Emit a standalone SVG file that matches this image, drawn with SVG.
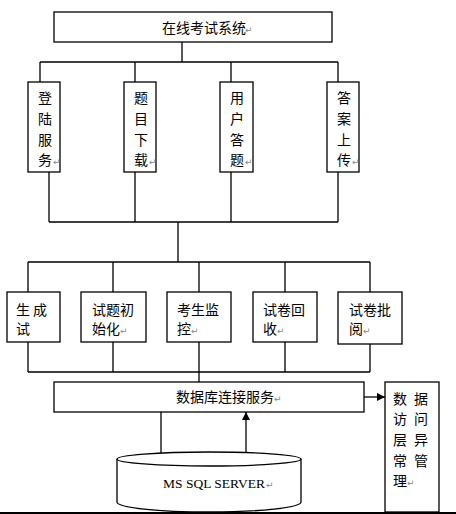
<svg xmlns="http://www.w3.org/2000/svg" width="456" height="514" viewBox="0 0 456 514">
<defs>
<style>
.box{fill:#fff;stroke:#000;stroke-width:1.3}
.ln{fill:none;stroke:#000;stroke-width:1.3}
.t{font-family:"SimSun","Noto Sans CJK SC","DejaVu Sans",sans-serif;font-size:14px;fill:#000}
.tc{text-anchor:middle}
.en{font-family:"Liberation Serif",serif;font-size:13.5px;fill:#000}
.pm{font-family:"DejaVu Sans",sans-serif;font-size:9px;fill:#888}
</style>
<marker id="ah" viewBox="0 0 10 10" refX="10" refY="5" markerWidth="8" markerHeight="8" markerUnits="userSpaceOnUse" orient="auto">
<path d="M0,0 L10,5 L0,10 z" fill="#000"/>
</marker>
</defs>
<rect width="456" height="514" fill="#fff"/>

<g id="connectors">
<path class="ln" d="M182,42 V62 M40,62 H338 M40,62 V82 M135,62 V82 M231,62 V82 M338,62 V82"/>
<path class="ln" d="M49,172 V222 M135,172 V222 M231,172 V222 M338,172 V222 M49,222 H338 M178,222 V262"/>
<path class="ln" d="M28,262 H370 M28,262 V292 M113,262 V292 M199,262 V292 M285,262 V292 M370,262 V292"/>
<path class="ln" d="M28,342 V372 M113,342 V372 M199,342 V372 M285,342 V372 M370,344 V372 M28,372 H370 M199,372 V382"/>
<line class="ln" x1="364" y1="397" x2="385" y2="397" marker-end="url(#ah)"/>
<line class="ln" x1="161" y1="412" x2="161" y2="461" marker-end="url(#ah)"/>
<line class="ln" x1="246" y1="453" x2="246" y2="412" marker-end="url(#ah)"/>
</g>

<g id="root">
<rect class="box" x="54" y="12" width="278" height="30"/>
<text class="t" x="162" y="33">在线考试系统</text><text class="pm" x="245" y="33">↵</text>
</g>

<g id="login">
<rect class="box" x="28" y="82" width="32" height="90"/>
<text class="t tc" x="45" y="103">登</text><text class="t tc" x="45" y="124">陆</text><text class="t tc" x="45" y="145">服</text><text class="t tc" x="45" y="165">务</text><text class="pm" x="53" y="165">↵</text>
</g>
<g id="download">
<rect class="box" x="124" y="82" width="32" height="90"/>
<text class="t tc" x="141" y="103">题</text><text class="t tc" x="141" y="124">目</text><text class="t tc" x="141" y="145">下</text><text class="t tc" x="141" y="165">载</text><text class="pm" x="149" y="165">↵</text>
</g>
<g id="answer">
<rect class="box" x="220" y="82" width="33" height="90"/>
<text class="t tc" x="237" y="103">用</text><text class="t tc" x="237" y="124">户</text><text class="t tc" x="237" y="145">答</text><text class="t tc" x="237" y="165">题</text><text class="pm" x="245" y="165">↵</text>
</g>
<g id="upload">
<rect class="box" x="327" y="82" width="32" height="90"/>
<text class="t tc" x="344" y="103">答</text><text class="t tc" x="344" y="124">案</text><text class="t tc" x="344" y="145">上</text><text class="t tc" x="344" y="165">传</text><text class="pm" x="352" y="165">↵</text>
</g>

<g id="gen">
<rect class="box" x="7" y="292" width="53" height="50"/>
<text class="t" x="16" y="315">生 <tspan x="33">成</tspan></text>
<text class="t" x="16" y="334">试</text>
</g>
<g id="init">
<rect class="box" x="81" y="292" width="65" height="50"/>
<text class="t" x="92" y="315">试题初</text>
<text class="t" x="92" y="334">始化</text><text class="pm" x="120" y="334">↵</text>
</g>
<g id="monitor">
<rect class="box" x="167" y="292" width="64" height="50"/>
<text class="t" x="177" y="315">考生监</text>
<text class="t" x="177" y="334">控</text><text class="pm" x="191" y="334">↵</text>
</g>
<g id="collect">
<rect class="box" x="253" y="292" width="64" height="50"/>
<text class="t" x="263" y="315">试卷回</text>
<text class="t" x="263" y="334">收</text><text class="pm" x="277" y="334">↵</text>
</g>
<g id="grade">
<rect class="box" x="338" y="292" width="64" height="52"/>
<text class="t" x="349" y="315">试卷批</text>
<text class="t" x="349" y="334">阅</text><text class="pm" x="363" y="334">↵</text>
</g>

<g id="dbconn">
<rect class="box" x="54" y="382" width="310" height="30"/>
<text class="t" x="176" y="402">数据库连接服务</text><text class="pm" x="274" y="402">↵</text>
</g>

<g id="exception">
<rect class="box" x="385" y="382" width="54" height="130"/>
<text class="t" x="393" y="404">数 <tspan x="414">据</tspan></text>
<text class="t" x="393" y="424">访 <tspan x="414">问</tspan></text>
<text class="t" x="393" y="445">层 <tspan x="414">异</tspan></text>
<text class="t" x="393" y="466">常 <tspan x="414">管</tspan></text>
<text class="t" x="393" y="486">理</text><text class="pm" x="407" y="486">↵</text>
</g>

<g id="db">
<path class="box" d="M117,459 V502 A92,10 0 0 0 301,502 V459"/>
<ellipse class="box" cx="209" cy="459" rx="92" ry="7"/>
<text class="en" x="163" y="488">MS SQL SERVER</text><text class="pm" x="266" y="488">↵</text>
</g>

<line x1="0" y1="513" x2="456" y2="513" stroke="#000" stroke-width="2"/>
</svg>
